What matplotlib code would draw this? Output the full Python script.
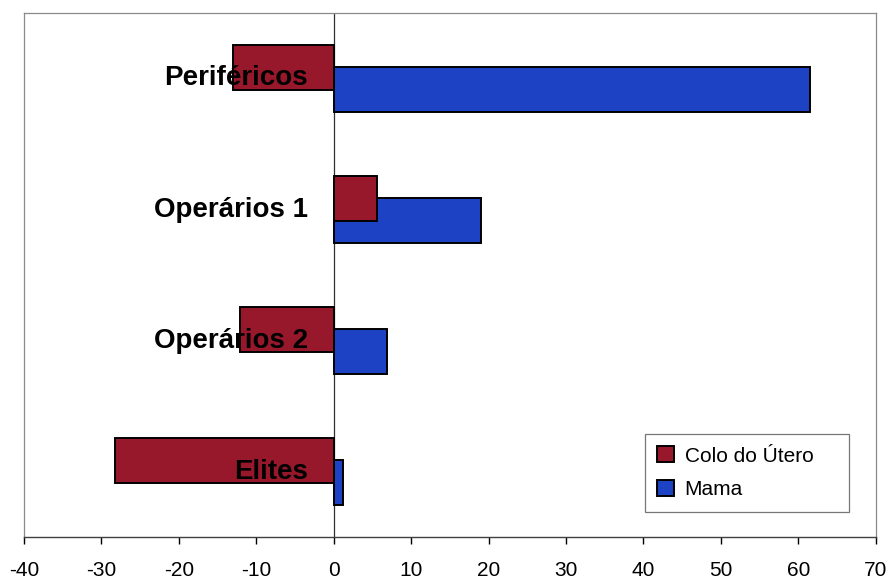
import matplotlib.pyplot as plt
import numpy as np

plt.rcParams['font.family'] = ['Liberation Sans', 'DejaVu Sans']

# grupos de baixo para cima
grupos = ['Elites', 'Operários 2', 'Operários 1', 'Periféricos']
colo_utero = [-28.2, -12.1, 5.6, -13.0]
mama = [1.2, 6.9, 19.0, 61.5]
xticks = [-40, -30, -20, -10, 0, 10, 20, 30, 40, 50, 60, 70]

cor_colo = '#96182a'
cor_mama = '#1d42c4'

fig = plt.figure(figsize=(8.9, 5.8), dpi=100)
ax = fig.add_axes([0.027, 0.0741, 0.957, 0.9035])

y = np.arange(len(grupos))
h = 0.34
d = 0.085

ax.axvline(0, color='#303030', lw=0.9, zorder=1)
ax.barh(y - d, mama, height=h, color=cor_mama, edgecolor='black',
        linewidth=1.4, label='Mama', zorder=2)
ax.barh(y + d, colo_utero, height=h, color=cor_colo, edgecolor='black',
        linewidth=1.4, label='Colo do Útero', zorder=3)

# nomes dos grupos junto ao eixo do zero
for yi, nome in zip(y, grupos):
    ax.annotate(nome, xy=(0, yi), xytext=(-26, 0), textcoords='offset pixels',
                ha='right', va='center', fontsize=20, fontweight='bold',
                color='black', zorder=5)

ax.set_xlim(-40, 70)
ax.set_ylim(-0.5, 3.5)
ax.set_xticks(xticks)
ax.set_xticklabels([str(t) for t in xticks])
ax.set_yticks([])
ax.tick_params(axis='x', direction='out', length=5, width=1, pad=12,
               labelsize=15, colors='black')

for s in ['left', 'top', 'right']:
    ax.spines[s].set_color('#8a8a8a')
    ax.spines[s].set_linewidth(0.9)
ax.spines['bottom'].set_color('#404040')
ax.spines['bottom'].set_linewidth(1.0)

handles, labels = ax.get_legend_handles_labels()
leg = ax.legend(handles[::-1], labels[::-1], loc='lower left',
                bbox_to_anchor=(0.729, 0.048, 0.24, 0.149), mode='expand',
                fontsize=15, frameon=True, fancybox=False, borderpad=0.6,
                handlelength=0.8, handleheight=0.8, handletextpad=0.5,
                labelspacing=0.7, borderaxespad=0)
leg.get_frame().set_edgecolor('#555555')
leg.get_frame().set_linewidth(0.9)

fig.savefig('out.png', dpi=100)
